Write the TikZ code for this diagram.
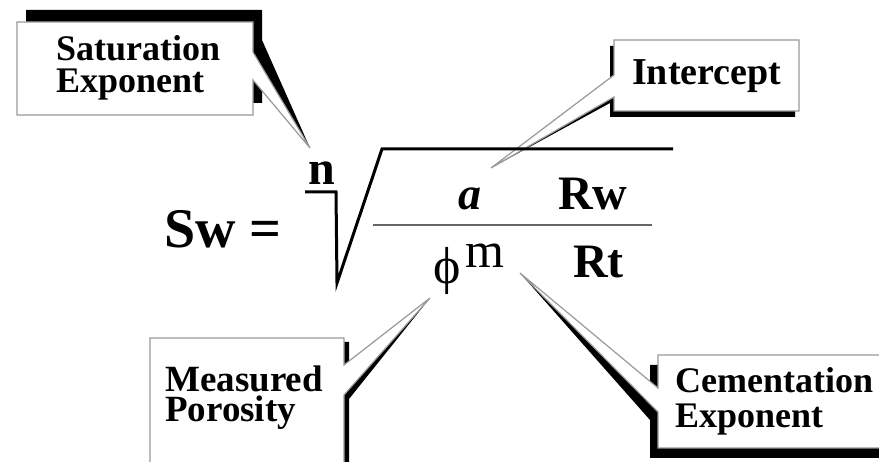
\documentclass[tikz,border=0pt]{standalone}
\usepackage{fontspec}
\setmainfont{Liberation Serif}
\newcommand{\callfont}[1]{\fontsize{36}{#1}\selectfont\bfseries}

\begin{document}
\begin{tikzpicture}[x=1pt, y=-1pt, line join=miter,
  card/.style={fill=white, draw=black!40, line width=1.2pt},
  shade/.style={fill=black},
  lbl/.style={anchor=base west, inner sep=0pt, align=left},
  eqn/.style={anchor=base west, inner sep=0pt},
  rad/.style={line width=3pt}]
\useasboundingbox (0,0) rectangle (879,462);
\clip (0,0) rectangle (879,462);
\fill[white] (0,0) rectangle (879,462);
% pointer tips
\coordinate (tipn) at (310,148);
\coordinate (tipa) at (491,168);
\coordinate (tipphi) at (430,298);
\coordinate (tipm) at (520,273);
% callout shadows
\fill[shade] (26,10) -- (262,10) -- (262,40) -- (tipn) -- (262,68) -- (262,103) -- (26,103) -- cycle;
\fill[shade] (610,46) -- (795,46) -- (795,117) -- (610,117) -- (610,103) -- (tipa) -- (610,81) -- cycle;
\fill[shade] (155,342) -- (349,342) -- (349,369) -- (tipphi) -- (349,399) -- (349,484) -- (155,484) -- cycle;
\fill[shade] (650,365) -- (892,365) -- (892,458) -- (650,458) -- (650,420) -- (tipm) -- (650,398) -- cycle;
% callout cards
\draw[card] (17,22) -- (253,22) -- (253,52) -- (tipn) -- (253,80) -- (253,115) -- (17,115) -- cycle;
\draw[card] (614,40) -- (799,40) -- (799,111) -- (614,111) -- (614,97) -- (tipa) -- (614,75) -- cycle;
\draw[card] (150,338) -- (344,338) -- (344,365) -- (tipphi) -- (344,395) -- (344,480) -- (150,480) -- cycle;
\draw[card] (658,355) -- (900,355) -- (900,448) -- (658,448) -- (658,412) -- (tipm) -- (658,388) -- cycle;
\node[lbl, font=\callfont{32}] (satlbl) at (56,93) {Saturation\\Exponent};
\node[lbl, font=\fontsize{38}{38}\selectfont\bfseries] (intlbl) at (632,85) {Intercept};
\node[lbl, font=\fontsize{37}{30}\selectfont\bfseries] (porlbl) at (165,422) {Measured\\Porosity};
\node[lbl, font=\callfont{35}] (cemlbl) at (675,428) {Cementation\\Exponent};
% the equation
\node[eqn, font=\fontsize{56}{56}\selectfont\bfseries] (sw) at (164,248) {Sw =};
\node[eqn, font=\fontsize{48}{48}\selectfont\bfseries] (nidx) at (308,185) {n};
\draw[rad] (305,192) -- (336,192) -- (337,283) -- (382,149) -- (673,149);
\draw[line width=1.8pt, black!60] (373,225) -- (652,225);
\node[eqn, font=\fontsize{46}{46}\selectfont\bfseries\itshape] (ca) at (458,210) {a};
\node[eqn, font=\fontsize{48}{48}\selectfont\bfseries] (rw) at (558,210) {Rw};
\node[eqn, font=\fontsize{52}{52}\selectfont] (phi) at (433,284) {ϕ};
\node[eqn, font=\fontsize{50}{50}\selectfont] (mexp) at (465,268) {m};
\node[eqn, font=\fontsize{48}{48}\selectfont\bfseries] (rt) at (573,278) {Rt};
\end{tikzpicture}
\end{document}
